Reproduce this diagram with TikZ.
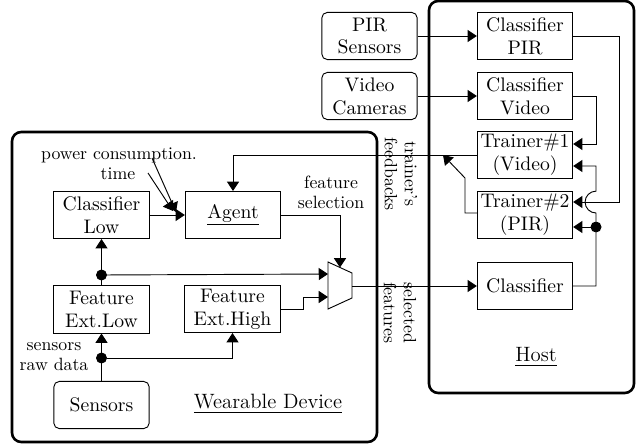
\documentclass[tikz,border=0pt]{standalone}
\usepackage{amsmath, amssymb}
\usetikzlibrary{arrows.meta}

\begin{document}
\begin{tikzpicture}
        [x=0.54pt,y=-0.54pt,line width=0.5pt,font=\fontsize{10.6}{12.4}\selectfont,
         blk/.style={draw,shape=rectangle,align=center,minimum width=51.5pt,minimum height=25.5pt,inner sep=1pt},
         src/.style={blk,rounded corners=3pt},
         area/.style={draw,line width=1.4pt,rounded corners=5pt},
         arr/.style={-{Triangle[length=5pt,width=6.5pt]}},
         dot/.style={draw,shape=circle,fill=black,inner sep=0,minimum size=5.4pt},
         lbl/.style={align=center,inner sep=0,font=\fontsize{9.6}{10.8}\selectfont},
         title/.style={inner sep=0,font=\fontsize{11.2}{13}\selectfont}]

        \useasboundingbox (0,0) rectangle (641,444);

        % areas
        \draw[area] (12,132) rectangle (377,442);
        \draw[area] (429,1) rectangle (634,393);

        % host side
        \node[src] (pir) at (369.5,36) {PIR\\Sensors};
        \node[src] (vid) at (369.5,96) {Video\\Cameras};
        \node[blk] (cpir) at (525,36) {Classifier\\PIR};
        \node[blk] (cvid) at (525,96) {Classifier\\Video};
        \node[blk] (tr1) at (525,155) {Trainer\#1\\(Video)};
        \node[blk] (tr2) at (525,215) {Trainer\#2\\(PIR)};
        \node[blk] (chost) at (525,286) {Classifier};

        % wearable side
        \node[blk] (clow) at (101.5,215) {Classifier\\Low};
        \node[blk] (agent) at (233,215) {\underline{Agent}};
        \node[blk] (felow) at (101.5,309.5) {Feature\\Ext.Low};
        \node[blk] (fehigh) at (232.5,309) {Feature\\Ext.High};
        \node[src] (sensors) at (101.5,405) {Sensors};

        % labels
        \node[lbl] (pwr) at (119,155) {power consumption.};
        \node[lbl] (time) at (118,174) {time};
        \node[lbl] (fsel) at (331,192) {feature\\selection};
        \node[lbl] (raw) at (54,357) {sensors\\raw data};
        \node[title] (wd) at (268,404) {\underline{Wearable Device}};
        \node[title] (hostlbl) at (536,357) {\underline{Host}};
        \node[lbl,rotate=-90] (tfb) at (401,174) {trainer's\\feedbacks};
        \node[lbl,rotate=-90] (sfeat) at (400,313) {selected\\features};

        % mux
        \draw (328,262) -- (352,273) -- (352,298) -- (328,309) -- cycle;
        \coordinate (muxa) at (328,274);
        \coordinate (muxb) at (328,297);
        \coordinate (muxo) at (352,286);
        \coordinate (muxs) at (340,267.5);

        % dots
        \node[dot] (d1) at (101.5,275) {};
        \node[dot] (d2) at (101.5,358) {};
        \node[dot] (d3) at (596,227) {};

        % bends
        \coordinate (j1) at (619,202);
        \coordinate (j2) at (596,144);
        \coordinate (j3) at (596,166);
        \coordinate (fb) at (443,155);
        \coordinate (fstep) at (303,297);
        \coordinate (pa) at (152,158);
        \coordinate (ta) at (148,173);
        \coordinate (pb) at (176,212);
        \coordinate (tb) at (173,211);

        \draw[arr] (pir) -- (cpir);
        \draw[arr] (vid) -- (cvid);
        \draw[arr] (cpir.east) -| (j1) -- (tr2.east |- j1);
        \draw[arr] (cvid.east) -| (j2) -- (tr1.east |- j2);
        \draw[arr] (chost.east) -| (d3) -- (596,213) arc[start angle=270,end angle=90,radius=5.9pt] -- (j3) -- (tr1.east |- j3);
        \draw[arr] (d3) -- (tr2.east |- d3);
        \draw[arr] (tr1.west) -| (agent.north);
        \draw[arr] (tr2.west |- 0,213) -- (465,213) -- (465,178) -- (fb);

        \draw[arr] (clow) -- (agent);
        \draw[arr] (pa) -- (pb);
        \draw[arr] (ta) -- (tb);
        \draw[arr] (agent.east) -| (muxs);
        \draw (felow.north) -- (d1);
        \draw[arr] (d1) -- (clow.south);
        \draw[arr] (d1) -- (muxa);
        \draw[arr] (fehigh.east) -| (fstep) -- (muxb);
        \draw (sensors) -- (d2);
        \draw[arr] (d2) -- (felow);
        \draw[arr] (d2) -| (fehigh.south);
        \draw[arr] (muxo) -- (chost.west);
      \end{tikzpicture}
\end{document}
